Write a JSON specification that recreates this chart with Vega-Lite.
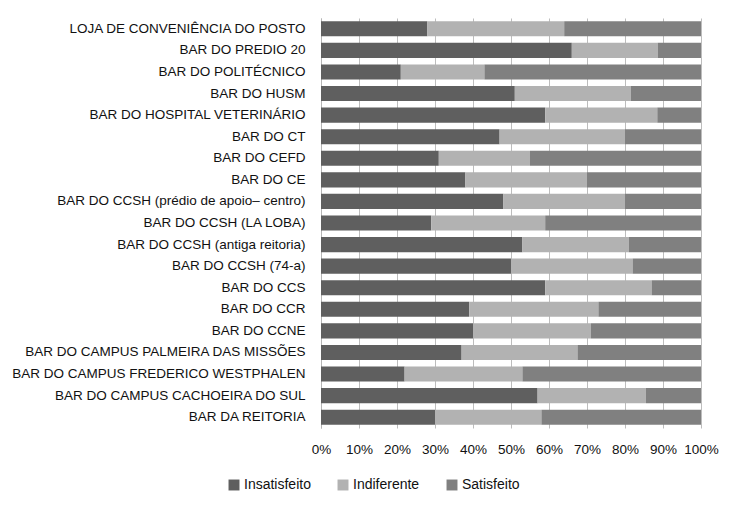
{
  "$schema": "https://vega.github.io/schema/vega-lite/v6.json",
  "autosize": {"type": "none"},
  "width": 380,
  "height": 410,
  "padding": {"left": 321, "top": 18, "right": 38, "bottom": 82},
  "background": "white",
  "config": {
    "view": {"stroke": null},
    "font": "Liberation Sans",
    "axis": {"labelFont": "Liberation Sans", "labelColor": "#111", "labelFontSize": 13.5}
  },
  "data": {
    "values": [
      {"bar": "LOJA DE CONVENIÊNCIA DO POSTO", "Insatisfeito": 28, "Indiferente": 36, "Satisfeito": 36},
      {"bar": "BAR DO PREDIO 20", "Insatisfeito": 66, "Indiferente": 22.6, "Satisfeito": 11.4},
      {"bar": "BAR DO POLITÉCNICO", "Insatisfeito": 21, "Indiferente": 22, "Satisfeito": 57},
      {"bar": "BAR DO HUSM", "Insatisfeito": 51, "Indiferente": 30.5, "Satisfeito": 18.5},
      {"bar": "BAR DO HOSPITAL VETERINÁRIO", "Insatisfeito": 59, "Indiferente": 29.5, "Satisfeito": 11.5},
      {"bar": "BAR DO CT", "Insatisfeito": 47, "Indiferente": 33, "Satisfeito": 20},
      {"bar": "BAR DO CEFD", "Insatisfeito": 31, "Indiferente": 24, "Satisfeito": 45},
      {"bar": "BAR DO CE", "Insatisfeito": 38, "Indiferente": 32, "Satisfeito": 30},
      {"bar": "BAR DO CCSH (prédio de apoio– centro)", "Insatisfeito": 48, "Indiferente": 32, "Satisfeito": 20},
      {"bar": "BAR DO CCSH (LA LOBA)", "Insatisfeito": 29, "Indiferente": 30, "Satisfeito": 41},
      {"bar": "BAR DO CCSH (antiga reitoria)", "Insatisfeito": 53, "Indiferente": 28, "Satisfeito": 19},
      {"bar": "BAR DO CCSH (74-a)", "Insatisfeito": 50, "Indiferente": 32, "Satisfeito": 18},
      {"bar": "BAR DO CCS", "Insatisfeito": 59, "Indiferente": 28, "Satisfeito": 13},
      {"bar": "BAR DO CCR", "Insatisfeito": 39, "Indiferente": 34, "Satisfeito": 27},
      {"bar": "BAR DO CCNE", "Insatisfeito": 40, "Indiferente": 31, "Satisfeito": 29},
      {"bar": "BAR DO CAMPUS PALMEIRA DAS MISSÕES", "Insatisfeito": 37, "Indiferente": 30.5, "Satisfeito": 32.5},
      {"bar": "BAR DO CAMPUS FREDERICO WESTPHALEN", "Insatisfeito": 22, "Indiferente": 31, "Satisfeito": 47},
      {"bar": "BAR DO CAMPUS CACHOEIRA DO SUL", "Insatisfeito": 57, "Indiferente": 28.5, "Satisfeito": 14.5},
      {"bar": "BAR DA REITORIA", "Insatisfeito": 30, "Indiferente": 28, "Satisfeito": 42}
    ]
  },
  "transform": [
    {"fold": ["Insatisfeito", "Indiferente", "Satisfeito"], "as": ["resposta", "valor"]},
    {"calculate": "indexof(['Insatisfeito','Indiferente','Satisfeito'], datum.resposta)", "as": "ordem"}
  ],
  "mark": {"type": "bar"},
  "encoding": {
    "y": {
      "field": "bar", "type": "nominal", "sort": null, "title": null,
      "scale": {"paddingInner": 0.3, "paddingOuter": 0.15},
      "axis": {"ticks": false, "domain": true, "domainColor": "#b5b5b5", "labelPadding": 16, "labelLimit": 320}
    },
    "x": {
      "field": "valor", "type": "quantitative", "stack": "normalize", "title": null,
      "scale": {"domain": [0, 1]},
      "axis": {"format": "%", "values": [0,0.1,0.2,0.3,0.4,0.5,0.6,0.7,0.8,0.9,1], "labelOverlap": false, "grid": true, "gridColor": "#bdbdbd", "domain": false, "ticks": false, "labelPadding": 14, "labelFlush": false}
    },
    "color": {
      "field": "resposta", "type": "nominal", "title": null,
      "scale": {"domain": ["Insatisfeito", "Indiferente", "Satisfeito"], "range": ["#5f5f5f", "#b2b2b2", "#808080"]},
      "legend": {"orient": "none", "legendX": -94, "legendY": 460, "direction": "horizontal", "symbolType": "square", "symbolSize": 120, "labelFontSize": 14, "labelColor": "#111", "labelFont": "Liberation Sans", "labelOffset": 3, "columnPadding": 25, "symbolStrokeWidth": 0}
    },
    "order": {"field": "ordem", "type": "quantitative"}
  }
}
